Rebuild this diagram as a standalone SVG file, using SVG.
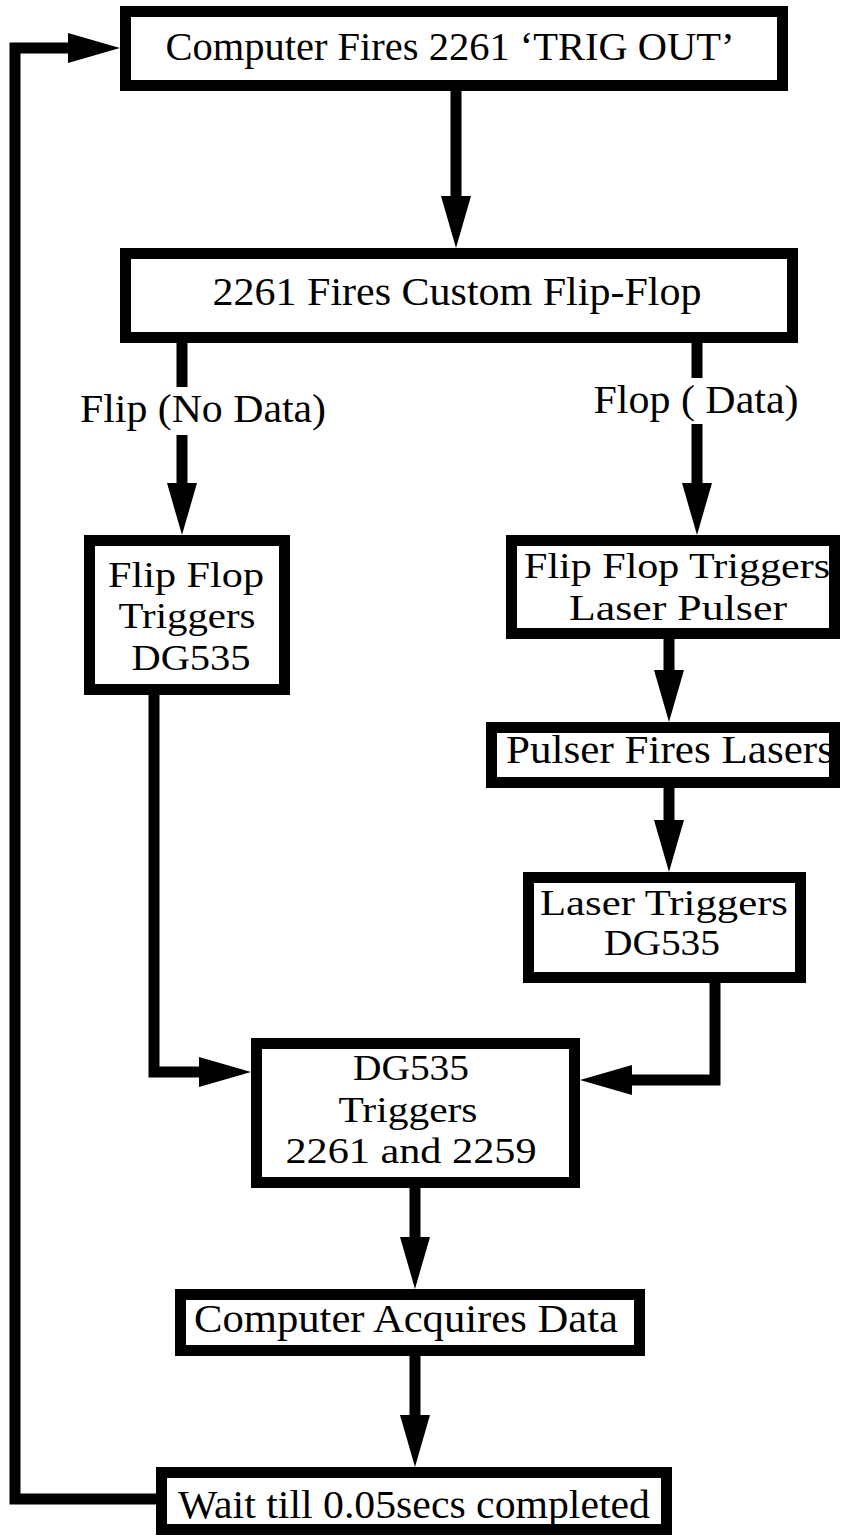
<svg xmlns="http://www.w3.org/2000/svg" width="842" height="1538" viewBox="0 0 842 1538">
<style>
  .box{fill:#fff;stroke:#000;stroke-width:11;stroke-linejoin:miter}
  .t{font-family:"Liberation Serif","Times New Roman",serif;font-size:41px;fill:#000;text-anchor:middle}
  .m{font-size:36px}
  .c{fill:none;stroke:#000;stroke-width:11;stroke-linejoin:miter;stroke-linecap:butt}
</style>
<defs>
  <marker id="ah" viewBox="0 0 52 30" refX="0" refY="15" markerWidth="52" markerHeight="30" markerUnits="userSpaceOnUse" orient="auto">
    <path d="M0,0 L52,15 L0,30 Z" fill="#000"/>
  </marker>
</defs>
<rect width="842" height="1538" fill="#fff"/>
<g id="connectors">
  <path class="c" d="M456,91 V196" marker-end="url(#ah)"/>
  <path class="c" d="M182,343 V387"/>
  <path class="c" d="M182,435 V483" marker-end="url(#ah)"/>
  <path class="c" d="M697,343 V378"/>
  <path class="c" d="M697,424 V483" marker-end="url(#ah)"/>
  <path class="c" d="M669,639 V670" marker-end="url(#ah)"/>
  <path class="c" d="M669,788 V820" marker-end="url(#ah)"/>
  <path class="c" d="M154,695 V1072 H199" marker-end="url(#ah)"/>
  <path class="c" d="M715,983 V1080 H632" marker-end="url(#ah)"/>
  <path class="c" d="M415,1188 V1237" marker-end="url(#ah)"/>
  <path class="c" d="M415,1356 V1415" marker-end="url(#ah)"/>
  <path class="c" d="M156,1499 H15 V48 H68" marker-end="url(#ah)"/>
  <text class="t" x="203" y="422" textLength="246" lengthAdjust="spacingAndGlyphs">Flip (No Data)</text>
  <text class="t" x="696" y="413" textLength="205" lengthAdjust="spacingAndGlyphs">Flop ( Data)</text>
</g>
<g id="n1">
  <rect class="box" x="125.5" y="11.5" width="657" height="74"/>
  <text class="t" x="450" y="60" textLength="569" lengthAdjust="spacingAndGlyphs">Computer Fires 2261 ‘TRIG OUT’</text>
</g>
<g id="n2">
  <rect class="box" x="125.5" y="253.5" width="667" height="84"/>
  <text class="t" x="457" y="305" textLength="489" lengthAdjust="spacingAndGlyphs">2261 Fires Custom Flip-Flop</text>
</g>
<g id="n3">
  <rect class="box" x="89.5" y="540.5" width="195" height="149"/>
  <text class="t m" x="186" y="587" textLength="156" lengthAdjust="spacingAndGlyphs">Flip Flop</text>
  <text class="t m" x="187" y="628" textLength="137" lengthAdjust="spacingAndGlyphs">Triggers</text>
  <text class="t m" x="191" y="670" textLength="119" lengthAdjust="spacingAndGlyphs">DG535</text>
</g>
<g id="n4">
  <rect class="box" x="511.5" y="540.5" width="323" height="93"/>
  <text class="t m" x="677" y="578" textLength="306" lengthAdjust="spacingAndGlyphs">Flip Flop Triggers</text>
  <text class="t m" x="678" y="620" textLength="218" lengthAdjust="spacingAndGlyphs">Laser Pulser</text>
</g>
<g id="n5">
  <rect class="box" x="491.5" y="727.5" width="343" height="55"/>
  <text class="t" x="670" y="763" textLength="328" lengthAdjust="spacingAndGlyphs">Pulser Fires Lasers</text>
</g>
<g id="n6">
  <rect class="box" x="528.5" y="877.5" width="272" height="100"/>
  <text class="t m" x="664" y="915" textLength="248" lengthAdjust="spacingAndGlyphs">Laser Triggers</text>
  <text class="t m" x="662" y="955" textLength="116" lengthAdjust="spacingAndGlyphs">DG535</text>
</g>
<g id="n7">
  <rect class="box" x="256.5" y="1043.5" width="318" height="139"/>
  <text class="t m" x="411" y="1080" textLength="116" lengthAdjust="spacingAndGlyphs">DG535</text>
  <text class="t m" x="408" y="1122" textLength="139" lengthAdjust="spacingAndGlyphs">Triggers</text>
  <text class="t m" x="411" y="1163" textLength="251" lengthAdjust="spacingAndGlyphs">2261 and 2259</text>
</g>
<g id="n8">
  <rect class="box" x="180.5" y="1294.5" width="459" height="56"/>
  <text class="t" x="406" y="1332" textLength="424" lengthAdjust="spacingAndGlyphs">Computer Acquires Data</text>
</g>
<g id="n9">
  <rect class="box" x="161.5" y="1472.5" width="505" height="57"/>
  <text class="t" x="414" y="1518" textLength="472" lengthAdjust="spacingAndGlyphs">Wait till 0.05secs completed</text>
</g>
</svg>
